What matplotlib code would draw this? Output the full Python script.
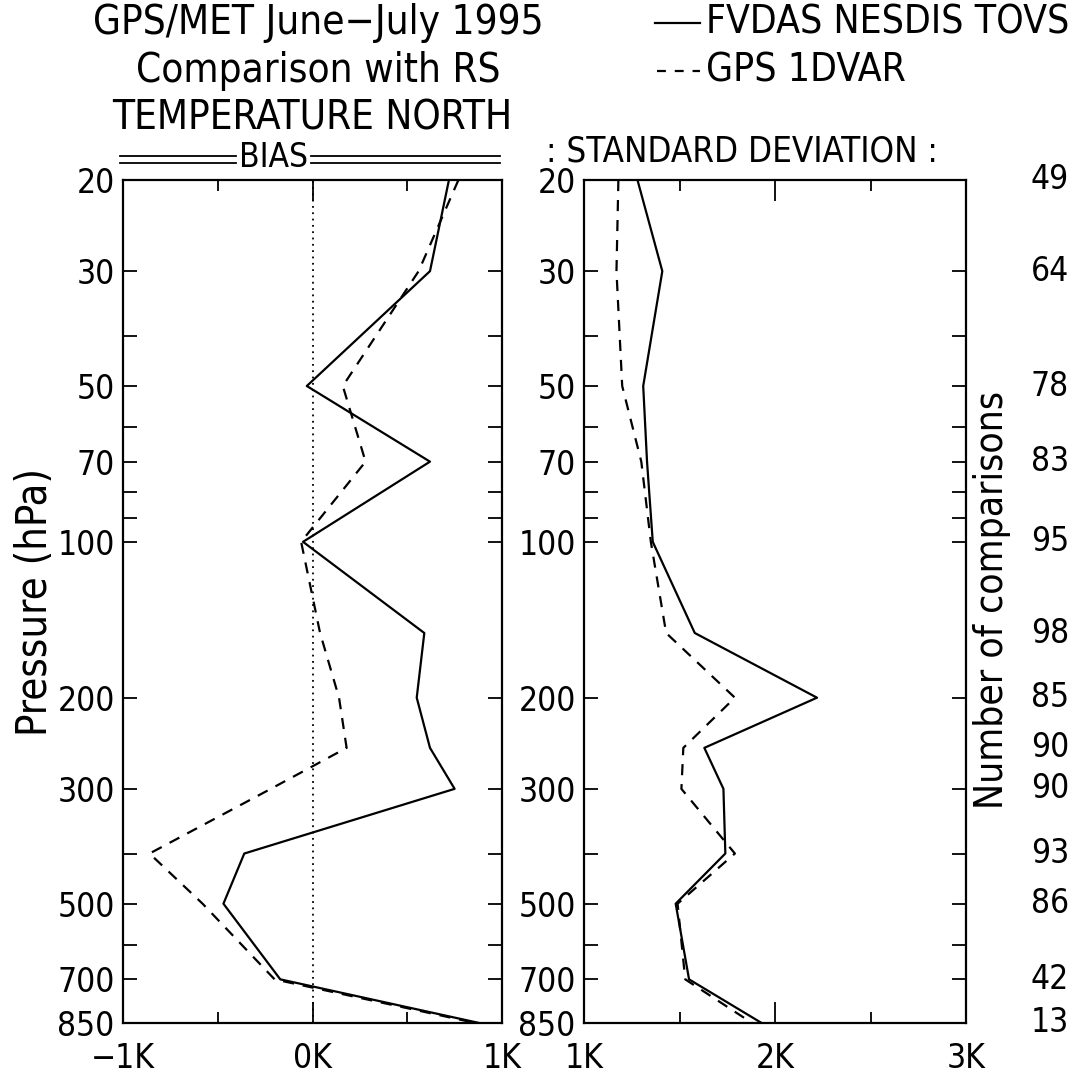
import matplotlib
matplotlib.use("Agg")
import matplotlib.pyplot as plt
from matplotlib.lines import Line2D
from matplotlib.ticker import FixedLocator, NullFormatter
from matplotlib.transforms import blended_transform_factory

plt.rcParams['font.family'] = ['DejaVu Sans']
plt.rcParams['font.stretch'] = 'condensed'

# pressure levels (hPa)
pressure = [20, 30, 50, 70, 100, 150, 200, 250, 300, 400, 500, 700, 850]

# bias (K)
bias_fvdas = [0.72, 0.62, -0.03, 0.62, -0.05, 0.59, 0.55, 0.62, 0.75, -0.36, -0.47, -0.17, 0.88]
bias_gps = [0.77, 0.56, 0.16, 0.28, -0.06, 0.04, 0.14, 0.18, -0.22, -0.86, -0.58, -0.20, 0.86]

# standard deviation (K)
std_fvdas = [1.28, 1.41, 1.31, 1.33, 1.36, 1.58, 2.22, 1.63, 1.73, 1.74, 1.48, 1.55, 1.93]
std_gps = [1.18, 1.17, 1.20, 1.30, 1.35, 1.43, 1.79, 1.52, 1.51, 1.79, 1.49, 1.53, 1.88]

# number of comparisons
n_comp = [49, 64, 78, 83, 95, 98, 85, 90, 90, 93, 86, 42, 13]

ytick_major = [20, 30, 50, 70, 100, 200, 300, 500, 700, 850]
ytick_minor = [40, 60, 80, 90, 400, 600]

W, H = 1082, 1081
fig = plt.figure(figsize=(W / 100, H / 100), dpi=100)


def fx(px):
    return px / W


def fy(py):
    return 1 - py / H


top, bot = 180, 1023
ax1 = fig.add_axes([fx(123), fy(bot), fx(502) - fx(123), fy(top) - fy(bot)])
ax2 = fig.add_axes([fx(584), fy(bot), fx(966) - fx(584), fy(top) - fy(bot)])

lw = 1.6
for ax in (ax1, ax2):
    ax.set_yscale('log')
    ax.set_ylim(850, 20)
    ax.yaxis.set_major_locator(FixedLocator(ytick_major))
    ax.yaxis.set_minor_locator(FixedLocator(ytick_minor))
    ax.yaxis.set_minor_formatter(NullFormatter())
    ax.set_yticklabels([str(p) for p in ytick_major])
    ax.tick_params(axis='both', which='both', direction='in', top=True, right=True,
                   labelsize=24, width=1.3, pad=6)
    ax.tick_params(axis='y', which='both', length=10)
    ax.tick_params(axis='x', which='major', length=15, pad=14)
    ax.tick_params(axis='x', which='minor', length=8)
    for s in ax.spines.values():
        s.set_linewidth(1.6)

# bias panel
ax1.plot(bias_fvdas, pressure, color='black', lw=lw, ls='-')
ax1.plot(bias_gps, pressure, color='black', lw=lw, ls=(0, (5, 4)))
ax1.axvline(0, color='black', lw=1.3, ls=(0, (1, 2.5)))
ax1.set_xlim(-1, 1)
ax1.set_xticks([-1, 0, 1])
ax1.set_xticklabels(['\u22121K', '0K', '1K'])
ax1.set_xticks([-0.5, 0.5], minor=True)
ax1.set_ylabel('Pressure (hPa)', fontsize=30, va='center')
ax1.yaxis.set_label_coords((35 - 123) / (502 - 123), 0.5)

# standard deviation panel
ax2.plot(std_fvdas, pressure, color='black', lw=lw, ls='-')
ax2.plot(std_gps, pressure, color='black', lw=lw, ls=(0, (5, 4)))
ax2.set_xlim(1, 3)
ax2.set_xticks([1, 2, 3])
ax2.set_xticklabels(['1K', '2K', '3K'])
ax2.set_xticks([1.5, 2.5], minor=True)

# number of comparisons on the right
tr = blended_transform_factory(fig.transFigure, ax2.transData)
for p, n in zip(pressure, n_comp):
    ax2.text(fx(1050), p, str(n), transform=tr, ha='center', va='center', fontsize=24)
fig.text(fx(992), fy(600), 'Number of comparisons', rotation=90, ha='center', va='center',
         fontsize=28)

# titles
fig.text(fx(318), fy(23), 'GPS/MET June\u2212July 1995', ha='center', va='center', fontsize=29)
fig.text(fx(318), fy(71), 'Comparison with RS', ha='center', va='center', fontsize=29)
fig.text(fx(312), fy(119), 'TEMPERATURE NORTH', ha='center', va='center', fontsize=29)

fig.text(fx(274), fy(158), 'BIAS', ha='center', va='center', fontsize=24)
for y in (156, 163):
    fig.add_artist(Line2D([fx(120), fx(236)], [fy(y), fy(y)], color='black', lw=1.3))
    fig.add_artist(Line2D([fx(311), fx(500)], [fy(y), fy(y)], color='black', lw=1.3))
fig.text(fx(742), fy(152), ': STANDARD DEVIATION :', ha='center', va='center', fontsize=25)

# legend
fig.add_artist(Line2D([fx(655), fx(700)], [fy(23), fy(23)], color='black', lw=lw))
fig.add_artist(Line2D([fx(657), fx(700)], [fy(71), fy(71)], color='black', lw=lw,
                      ls=(0, (4, 4))))
fig.text(fx(706), fy(23), 'FVDAS NESDIS TOVS', ha='left', va='center', fontsize=28)
fig.text(fx(706), fy(71), 'GPS 1DVAR', ha='left', va='center', fontsize=28)

fig.savefig('out.png', dpi=100, facecolor='white')
